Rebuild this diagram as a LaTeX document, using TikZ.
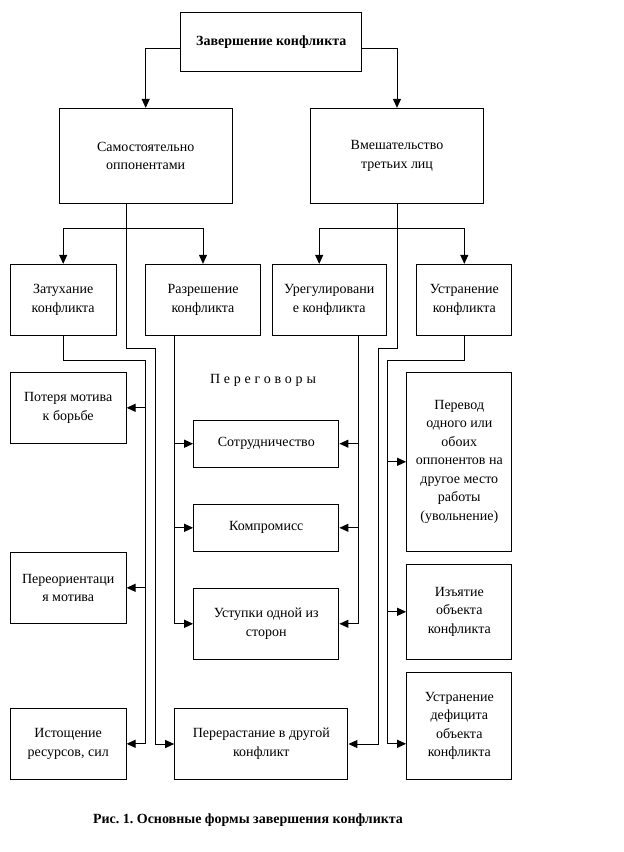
\documentclass[tikz,border=0pt]{standalone}
\usepackage{fontspec}
\setmainfont{Liberation Serif}
\usetikzlibrary{arrows.meta,calc}
\frenchspacing

\begin{document}
\begin{tikzpicture}[x=1pt,y=-1pt,line width=1pt,
		box/.style={draw,rectangle,align=center,inner sep=2pt,font=\fontsize{14}{18.5}\selectfont},
		arr/.style={-{Triangle[length=9pt,width=8pt]}}]
		\useasboundingbox (0,0) rectangle (624,852);
		\node[box,font=\bfseries\fontsize{14}{18.5}\selectfont,minimum width=180.7pt,minimum height=59pt] (zav) at (271.3,41.8) {Завершение конфликта};
		\node[box,minimum width=173.3pt,minimum height=94.7pt] (sam) at (145.7,155.7) {Самостоятельно\\оппонентами};
		\node[box,minimum width=173.3pt,minimum height=94.7pt] (vm) at (397,155.7) {Вмешательство\\третьих лиц};
		\node[box,minimum width=105.7pt,minimum height=70.7pt] (zat) at (63.2,299.7) {Затухание\\конфликта};
		\node[box,minimum width=115.3pt,minimum height=70.7pt] (raz) at (203,299.7) {Разрешение\\конфликта};
		\node[box,minimum width=114.3pt,minimum height=70.7pt] (ureg) at (329.2,299.7) {Урегулировани\\е конфликта};
		\node[box,minimum width=95.3pt,minimum height=70.7pt] (ustr) at (464.3,299.7) {Устранение\\конфликта};
		\node[box,minimum width=115.7pt,minimum height=71pt] (pot) at (68.2,407.8) {Потеря мотива\\к борьбе};
		\node[box,minimum width=115.7pt,minimum height=71pt] (pereor) at (68.2,587.8) {Переориентаци\\я мотива};
		\node[box,minimum width=115.7pt,minimum height=71pt] (ist) at (68.2,743.8) {Истощение\\ресурсов, сил};
		\node[box,minimum width=145.3pt,minimum height=47.3pt] (sotr) at (266.3,443.7) {Сотрудничество};
		\node[box,minimum width=145.3pt,minimum height=47pt] (komp) at (266.3,527.8) {Компромисс};
		\node[box,minimum width=145.3pt,minimum height=71pt] (ust) at (266.3,623.8) {Уступки одной из\\сторон};
		\node[box,minimum width=173.3pt,minimum height=71pt] (perer) at (261.3,743.8) {Перерастание в другой\\конфликт};
		\node[box,minimum width=105.3pt,minimum height=179pt] (perev) at (459.3,461.8) {Перевод\\одного или\\обоих\\оппонентов на\\другое место\\работы\\(увольнение)};
		\node[box,minimum width=105.3pt,minimum height=95pt] (izy) at (459.3,611.8) {Изъятие\\объекта\\конфликта};
		\node[box,minimum width=105.3pt,minimum height=107pt] (def) at (459.3,725.8) {Устранение\\дефицита\\объекта\\конфликта};
		\node[font=\fontsize{14}{18.5}\selectfont] (peregov) at (263,380.7) {\addfontfeature{LetterSpace=27}Переговоры};
		\node[font=\bfseries\fontsize{14}{18.5}\selectfont] (ris) at (248,820) {Рис. 1. Основные формы завершения конфликта};
		\coordinate (s1) at (126,228.3);
		\coordinate (s2) at (126,348.3);
		\coordinate (s3) at (155.3,744);
		\coordinate (v1) at (397,228.3);
		\coordinate (v2) at (397,348.3);
		\coordinate (v3) at (378,744);
		\coordinate (z1) at (145.3,360);
		\coordinate (r1) at (174.7,335);
		\coordinate (u1) at (358.7,335);
		\coordinate (t1) at (387.3,360);
		\draw[arr] ([yshift=-6.5pt]zav.west) -| (sam.north);
		\draw[arr] ([yshift=-6.5pt]zav.east) -| (vm.north);
		\draw[arr] (sam.south -| s1) -- (s2) -| (s3) -- (perer.west |- s3);
		\draw[arr] (s1) -| (zat.north);
		\draw[arr] (s1) -| (raz.north);
		\draw[arr] (vm.south) -- (v2) -| (v3) -- (perer.east |- v3);
		\draw[arr] (v1) -| ([xshift=-10pt]ureg.north);
		\draw[arr] (v1) -| (ustr.north);
		\draw (zat.south) |- (z1) -- (z1 |- ist.east);
		\foreach \n in {pot,pereor,ist} \draw[arr] (z1 |- \n.east) -- (\n.east);
		\draw (raz.south -| r1) -- (r1 |- ust.west);
		\foreach \n in {sotr,komp,ust} \draw[arr] (r1 |- \n.west) -- (\n.west);
		\draw (ureg.south -| u1) -- (u1 |- ust.east);
		\foreach \n in {sotr,komp,ust} \draw[arr] (u1 |- \n.east) -- (\n.east);
		\draw (ustr.south) |- (t1) -- (t1 |- perer.east);
		\foreach \n in {perev,izy} \draw[arr] (t1 |- \n.west) -- (\n.west);
		\draw[arr] (t1 |- perer.east) -- (def.west |- perer.east);
\end{tikzpicture}
\end{document}
